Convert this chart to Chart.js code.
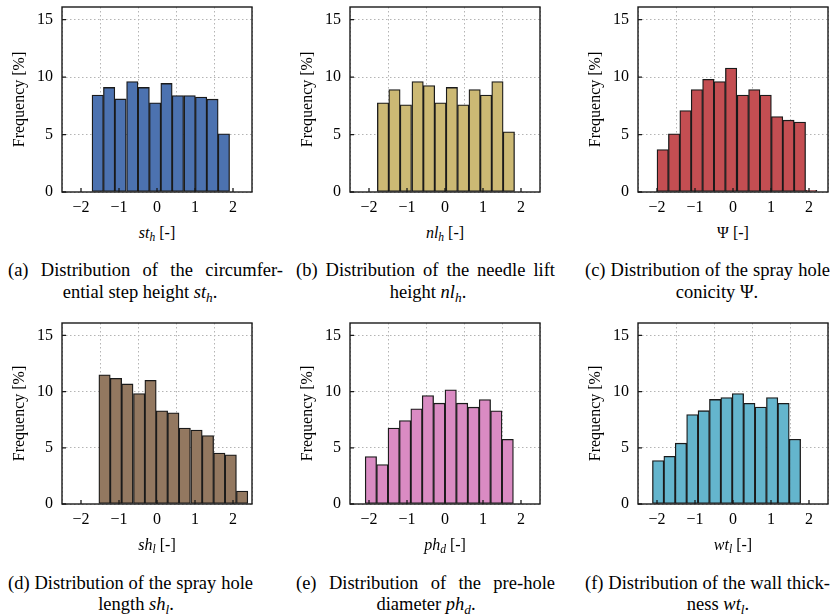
<!DOCTYPE html>
<html>
<head>
<meta charset="utf-8">
<script src="https://cdn.jsdelivr.net/npm/chart.js@4.4.1/dist/chart.umd.min.js"></script>
<style>
    body { margin: 0; width: 833px; height: 614px; background: #fff; overflow: hidden; position: relative; font-family: 'Liberation Serif', serif; color: #000; }
    canvas { position: absolute; }
    .lbl { position: absolute; font-size: 16px; line-height: 20px; white-space: nowrap; transform: translateX(-50%); }
    .cap { position: absolute; font-size: 18.5px; line-height: 22px; white-space: nowrap; }
    .l1 { text-align: justify; text-align-last: justify; }
    .l2 { transform: translateX(-50%); }
    sub { font-size: 72%; vertical-align: -0.3em; line-height: 0; }
</style>
</head>
<body>
<canvas id="hist-a" width="258" height="222" style="left:0px;top:0px"></canvas>
<canvas id="hist-b" width="258" height="222" style="left:288px;top:0px"></canvas>
<canvas id="hist-c" width="257" height="222" style="left:576px;top:0px"></canvas>
<canvas id="hist-d" width="258" height="222" style="left:0px;top:316px"></canvas>
<canvas id="hist-e" width="258" height="222" style="left:288px;top:316px"></canvas>
<canvas id="hist-f" width="257" height="222" style="left:576px;top:316px"></canvas>

<div class="lbl" style="left:157px;top:223px"><i>st</i><sub><i>h</i></sub> [-]</div>
<div class="lbl" style="left:445px;top:223px"><i>nl</i><sub><i>h</i></sub> [-]</div>
<div class="lbl" style="left:733px;top:223px">Ψ [-]</div>
<div class="lbl" style="left:157px;top:535px"><i>sh</i><sub><i>l</i></sub> [-]</div>
<div class="lbl" style="left:445px;top:535px"><i>ph</i><sub><i>d</i></sub> [-]</div>
<div class="lbl" style="left:733px;top:535px"><i>wt</i><sub><i>l</i></sub> [-]</div>

<div class="cap l1" style="left:8px;top:259px;width:275px">(a) Distribution of the circumfer-</div>
<div class="cap l2" style="left:140px;top:281px">ential step height <i>st</i><sub><i>h</i></sub>.</div>
<div class="cap l1" style="left:296px;top:259px;width:259px">(b) Distribution of the needle lift</div>
<div class="cap l2" style="left:428px;top:281px">height <i>nl</i><sub><i>h</i></sub>.</div>
<div class="cap l1" style="left:585px;top:259px;width:245px">(c) Distribution of the spray hole</div>
<div class="cap l2" style="left:717px;top:281px">conicity Ψ.</div>
<div class="cap l1" style="left:8px;top:572px;width:245px">(d) Distribution of the spray hole</div>
<div class="cap l2" style="left:136px;top:593px">length <i>sh</i><sub><i>l</i></sub>.</div>
<div class="cap l1" style="left:296px;top:572px;width:259px">(e) Distribution of the pre-hole</div>
<div class="cap l2" style="left:426px;top:593px">diameter <i>ph</i><sub><i>d</i></sub>.</div>
<div class="cap l1" style="left:585px;top:572px;width:245px">(f) Distribution of the wall thick-</div>
<div class="cap l2" style="left:718px;top:593px">ness <i>wt</i><sub><i>l</i></sub>.</div>

<script>
const xTicks = [-2, -1, 0, 1, 2]
const yTicks = [0, 5, 10, 15]

// bin centres and frequencies [%]
const binsA = [-1.56, -1.26, -0.96, -0.65, -0.35, -0.05, 0.25, 0.55, 0.86, 1.16, 1.46, 1.76]
const freqA = [8.43, 9.10, 8.10, 9.62, 9.10, 7.76, 9.45, 8.40, 8.40, 8.26, 8.08, 5.06]

const binsB = [-1.63, -1.33, -1.03, -0.72, -0.42, -0.12, 0.18, 0.48, 0.78, 1.08, 1.38, 1.68]
const freqB = [7.76, 8.92, 7.59, 9.62, 9.27, 7.76, 9.10, 7.59, 8.92, 8.43, 9.62, 5.23]

const binsC = [-1.85, -1.55, -1.25, -0.95, -0.65, -0.35, -0.05, 0.26, 0.56, 0.86, 1.16, 1.46, 1.76, 2.06]
const freqC = [3.69, 5.06, 7.09, 8.92, 9.80, 9.62, 10.78, 8.43, 8.92, 8.43, 6.57, 6.25, 6.08, 0.15]

const binsD = [-1.38, -1.08, -0.78, -0.47, -0.17, 0.13, 0.43, 0.73, 1.04, 1.34, 1.64, 1.94, 2.24]
const freqD = [11.50, 11.18, 10.68, 9.82, 11.00, 8.29, 8.11, 6.76, 6.58, 6.08, 4.54, 4.37, 1.15]

const binsE = [-1.95, -1.65, -1.35, -1.05, -0.75, -0.45, -0.15, 0.15, 0.45, 0.75, 1.05, 1.35, 1.65]
const freqE = [4.22, 3.51, 6.76, 7.43, 8.47, 9.65, 8.97, 10.15, 8.97, 8.61, 9.29, 8.29, 5.75]

const binsF = [-1.97, -1.67, -1.37, -1.07, -0.77, -0.47, -0.17, 0.13, 0.43, 0.73, 1.03, 1.33, 1.63]
const freqF = [3.86, 4.24, 5.41, 7.95, 8.30, 9.30, 9.47, 9.82, 8.95, 8.63, 9.47, 8.95, 5.76]

const serif = 'Liberation Serif'

//? marco negro y ticks hacia dentro
const frame = {
    id: 'frame',
    afterDatasetsDraw(chart) {
        const { ctx, chartArea: a, scales } = chart
        ctx.save()
        ctx.strokeStyle = '#1a1a1a'
        ctx.lineWidth = 1.3
        ctx.beginPath()
        scales.y.ticks.forEach(t => {
            const y = scales.y.getPixelForValue(t.value)
            ctx.moveTo(a.left, y)
            ctx.lineTo(a.left + 4, y)
        })
        scales.x.ticks.forEach(t => {
            const x = scales.x.getPixelForValue(t.value)
            ctx.moveTo(x, a.bottom)
            ctx.lineTo(x, a.bottom - 4)
        })
        ctx.stroke()
        ctx.lineWidth = 1.4
        ctx.strokeRect(a.left, a.top, a.right - a.left, a.bottom - a.top)
        ctx.restore()
    }
}

function histograma(id, bins, freq, color, plotBottom) {
    const canvas = document.getElementById(id)
    return new Chart(canvas, {
        type: 'bar',
        data: {
            datasets: [
                {
                    data: bins.map((x, i) => ({ x: x, y: freq[i] })),
                    backgroundColor: color,
                    borderColor: '#1a1a1a',
                    borderWidth: 1.3,
                    borderSkipped: false,
                    categoryPercentage: 1,
                    barPercentage: 1
                }
            ]
        },
        options: {
            responsive: false,
            animation: false,
            layout: { padding: { left: 0, top: 7, right: canvas.width - 252, bottom: 0 } },
            plugins: { legend: { display: false }, tooltip: { enabled: false } },
            scales: {
                x: {
                    type: 'linear',
                    min: -2.5,
                    max: 2.5,
                    offset: false,
                    afterBuildTicks: s => { s.ticks = xTicks.map(v => ({ value: v })) },
                    afterFit: s => {
                        s.height = canvas.height - plotBottom
                        s.paddingLeft = 0
                        s.paddingRight = 0
                    },
                    ticks: {
                        autoSkip: false,
                        maxRotation: 0,
                        padding: 6,
                        color: '#000',
                        font: { family: serif, size: 16 },
                        callback: v => (v < 0 ? '\u2212' + Math.abs(v) : '' + v)
                    },
                    grid: { color: '#b4b4b4', lineWidth: 1, drawTicks: false },
                    border: { display: false, dash: [1.5, 2.5] }
                },
                y: {
                    min: 0,
                    max: 16.1,
                    afterBuildTicks: s => { s.ticks = yTicks.map(v => ({ value: v })) },
                    afterFit: s => {
                        s.width = 62
                        s.paddingTop = 0
                        s.paddingBottom = 0
                    },
                    ticks: {
                        padding: 9,
                        color: '#000',
                        font: { family: serif, size: 16 }
                    },
                    grid: { color: '#b4b4b4', lineWidth: 1, drawTicks: false },
                    border: { display: false, dash: [1.5, 2.5] },
                    title: {
                        display: true,
                        text: 'Frequency [%]',
                        color: '#000',
                        font: { family: serif, size: 16 },
                        padding: { top: 10, bottom: 0 }
                    }
                }
            }
        },
        plugins: [frame]
    })
}

histograma('hist-a', binsA, freqA, '#4C72B0', 192)
histograma('hist-b', binsB, freqB, '#CCB974', 192)
histograma('hist-c', binsC, freqC, '#C44E52', 192)
histograma('hist-d', binsD, freqD, '#937860', 188)
histograma('hist-e', binsE, freqE, '#DA8BC3', 188)
histograma('hist-f', binsF, freqF, '#64B5CD', 188)
</script>
</body>
</html>
